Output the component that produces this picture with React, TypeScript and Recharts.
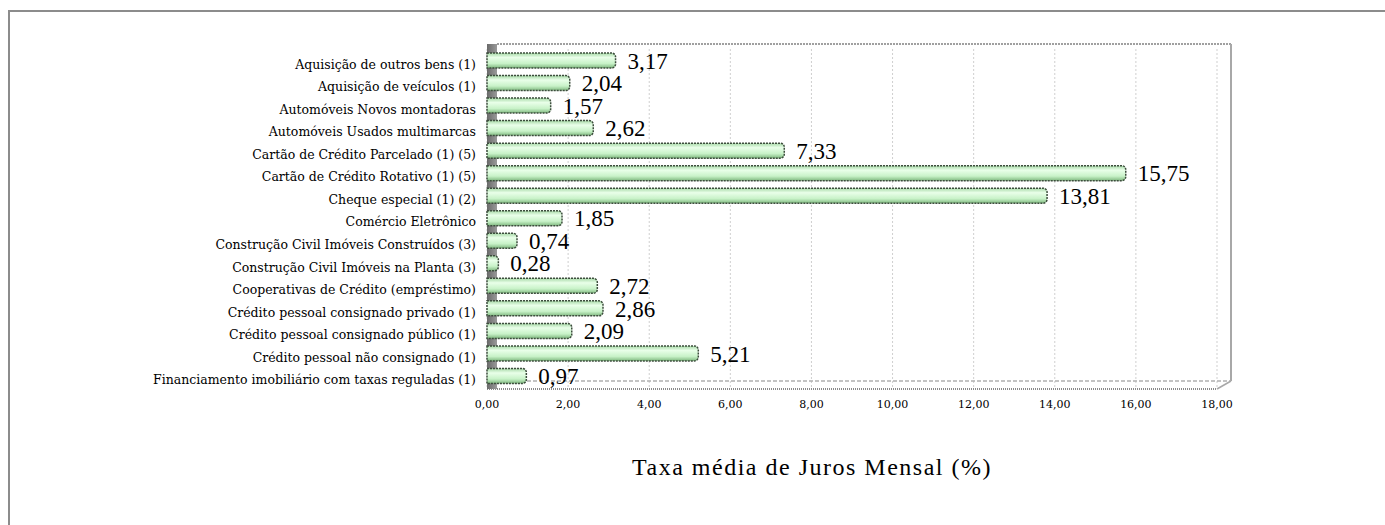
import React from 'react';
import { BarChart, Bar, XAxis, YAxis, CartesianGrid, LabelList, usePlotArea } from 'recharts';

const categories = [
  'Aquisição de outros bens (1)',
  'Aquisição de veículos (1)',
  'Automóveis Novos montadoras',
  'Automóveis Usados multimarcas',
  'Cartão de Crédito Parcelado (1) (5)',
  'Cartão de Crédito Rotativo (1) (5)',
  'Cheque especial (1) (2)',
  'Comércio Eletrônico',
  'Construção Civil Imóveis Construídos (3)',
  'Construção Civil Imóveis na Planta (3)',
  'Cooperativas de Crédito (empréstimo)',
  'Crédito pessoal consignado privado (1)',
  'Crédito pessoal consignado público (1)',
  'Crédito pessoal não consignado (1)',
  'Financiamento imobiliário com taxas reguladas (1)',
];

const taxas = [3.17, 2.04, 1.57, 2.62, 7.33, 15.75, 13.81, 1.85, 0.74, 0.28, 2.72, 2.86, 2.09, 5.21, 0.97];

const xTicks = [0, 2, 4, 6, 8, 10, 12, 14, 16, 18];

const data = categories.map((name, i) => ({ name, taxa: taxas[i] }));

const wideSerif = 'DejaVu Serif';
const serif = 'Liberation Serif';
const fmt = (v: number) => v.toFixed(2).replace('.', ',');

// 3D-ish frame: back wall edges, floor and the grey side wall
function Decor() {
  const p = usePlotArea();
  if (!p) return null;
  const d = 14;
  const top = p.y - 5;
  const bottom = p.y + p.height;
  return (
    <g>
      <line x1={p.x + 10} y1={top} x2={p.x + p.width + d} y2={top} stroke="#a0a0a0" strokeWidth={2} strokeDasharray="2 1" />
      <line x1={p.x + p.width + d} y1={top} x2={p.x + p.width + d} y2={bottom - 6} stroke="#a8a8a8" strokeWidth={2} />
      <line x1={p.x + 10} y1={bottom - 6} x2={p.x + p.width + d} y2={bottom - 6} stroke="#b0b0b0" strokeWidth={1.5} strokeDasharray="4 2" />
      <line x1={p.x} y1={bottom + 2} x2={p.x + p.width} y2={bottom + 2} stroke="#8a8a8a" strokeWidth={2} strokeDasharray="1 1" />
      <line x1={p.x + p.width} y1={bottom + 2} x2={p.x + p.width + d} y2={bottom - 6} stroke="#a8a8a8" strokeWidth={1.5} />
      <rect x={p.x} y={top} width={10} height={bottom - top + 2} fill="url(#wall)" />
    </g>
  );
}

export default function App() {
  return (
    <div style={{ position: 'absolute', left: 0, top: 0, width: 1385, height: 525, overflow: 'hidden', background: '#fff' }}>
      <div style={{ position: 'absolute', left: 8, top: 10, width: 1420, height: 600, border: '2px solid #8c8c8c', boxSizing: 'border-box' }} />
      <div style={{ position: 'absolute', left: 0, top: 0 }}>
        <BarChart
          width={1385}
          height={525}
          data={data}
          layout="vertical"
          margin={{ top: 49, right: 168, bottom: 38, left: 0 }}
          barCategoryGap={4}
        >
          <defs>
            <linearGradient id="barFill" x1="0" y1="0" x2="0" y2="1">
              <stop offset="0%" stopColor="#a6d8a6" />
              <stop offset="30%" stopColor="#e9ffe9" />
              <stop offset="70%" stopColor="#c8f2c8" />
              <stop offset="100%" stopColor="#7fb87f" />
            </linearGradient>
            <linearGradient id="wall" x1="0" y1="0" x2="1" y2="0">
              <stop offset="0%" stopColor="#6a6a6a" />
              <stop offset="100%" stopColor="#9a9a9a" />
            </linearGradient>
          </defs>
          <CartesianGrid horizontal={false} stroke="#cfcfcf" strokeDasharray="2 2" />
          <Decor />
          <XAxis
            type="number"
            domain={[0, 18]}
            ticks={xTicks}
            tickFormatter={fmt}
            interval={0}
            axisLine={false}
            tickLine={false}
            height={100}
            tick={{ fontSize: 11, fontFamily: wideSerif, fill: '#000' }}
            tickMargin={7}
            label={{ value: 'Taxa média de Juros Mensal (%)', position: 'insideBottom', offset: 12, dx: -40, fontSize: 24, letterSpacing: 1.5, fontFamily: serif, fill: '#000' }}
          />
          <YAxis
            type="category"
            dataKey="name"
            width={487}
            interval={0}
            axisLine={false}
            tickLine={false}
            tick={{ fontSize: 12.5, fontFamily: wideSerif, fill: '#000', dy: 4 }}
            tickMargin={5}
          />
          <Bar dataKey="taxa" barSize={15} fill="url(#barFill)" stroke="#3d4d3d" strokeWidth={1.5} strokeDasharray="2 1" radius={[0, 4, 4, 0]} isAnimationActive={false}>
            <LabelList dataKey="taxa" position="right" offset={12} formatter={(v: number) => fmt(v)} fontSize={23} fontFamily={serif} fill="#000" />
          </Bar>
        </BarChart>
      </div>
    </div>
  );
}
